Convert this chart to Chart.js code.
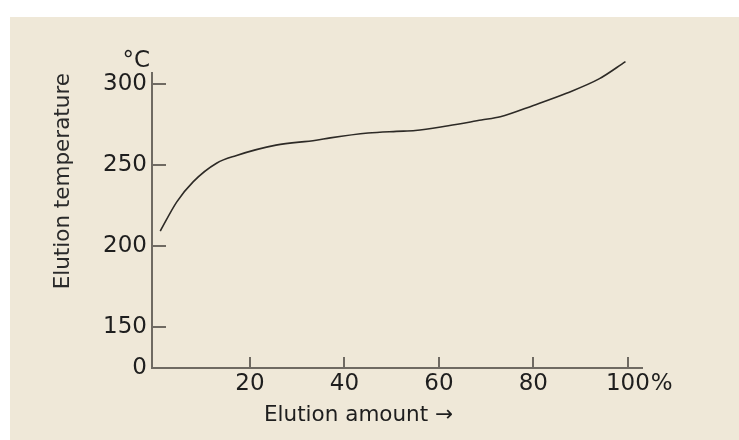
<!DOCTYPE html>
<html>
<head>
<meta charset="utf-8">
<script src="https://cdn.jsdelivr.net/npm/chart.js@4.4.1/dist/chart.umd.min.js"></script>
<style>
  html, body { margin: 0; padding: 0; background: #fff; }
  #panel { position: absolute; left: 10px; top: 17px; width: 729px; height: 423px; background: #efe8d8; }
  #elutionChart { position: absolute; left: 0; top: 0; }
</style>
</head>
<body>
<div id="panel"></div>
<canvas id="elutionChart" width="739" height="440"></canvas>
<script>
// elution curve, read point by point
const elutionAmount = [1, 4.5, 8, 13, 17, 25.5, 34, 37, 45, 51, 55, 62, 69, 73, 80, 87, 94, 99.5];
const elutionTemp = [209.5, 227.5, 240, 251.5, 256, 262.5, 265.5, 267, 270, 271, 271.5, 274.5, 278, 280, 287, 294.5, 303.5, 314];

const xTickValues = [20, 40, 60, 80, 100];
const xTickLabels = ['20', '40', '60', '80', '100'];
const yTickValues = [150, 200, 250, 300];
const yBreakLabel = '0';   // axis is broken below 150
const xUnit = '%';
const yUnit = '°C';
const xTitle = 'Elution amount →';
const yTitle = 'Elution temperature';

const xMin = -0.75, xMax = 103;
const yMin = 125, yMax = 307;

const axisColor = '#6f6a62';
const lineColor = '#2d2a26';
const textColor = '#1e1e1e';
const fontFamily = '"DejaVu Sans", sans-serif';
const tickSize = 23;
const titleSize = 21.5;

// inward tick marks, unit labels and the x title
const axisExtras = {
  id: 'axisExtras',
  afterDraw(chart) {
    const { ctx, scales: { x, y } } = chart;
    ctx.save();
    ctx.strokeStyle = axisColor;
    ctx.lineWidth = 2;
    ctx.beginPath();
    yTickValues.forEach(v => {
      const py = Math.round(y.getPixelForValue(v));
      ctx.moveTo(y.right, py);
      ctx.lineTo(y.right + 14, py);
    });
    xTickValues.forEach(v => {
      const px = Math.round(x.getPixelForValue(v));
      ctx.moveTo(px, x.top);
      ctx.lineTo(px, x.top - 11);
    });
    ctx.stroke();

    ctx.fillStyle = textColor;
    ctx.font = `${tickSize}px ${fontFamily}`;
    ctx.textAlign = 'right';
    ctx.textBaseline = 'alphabetic';
    ctx.fillText(yUnit, y.right - 2, y.getPixelForValue(yMax) - 6);

    // percent sign hangs off the last x label
    const items = x.getLabelItems();
    const lastItem = items[items.length - 1];
    const [lx, ly] = lastItem.options.translation;
    const half = ctx.measureText(lastItem.label).width / 2;
    ctx.textAlign = 'left';
    ctx.textBaseline = lastItem.options.textBaseline;
    ctx.fillText(xUnit, lx + half + 1, ly + lastItem.textOffset);

    ctx.font = `${titleSize}px ${fontFamily}`;
    ctx.textBaseline = 'alphabetic';
    ctx.fillText(xTitle, x.left + 112, x.top + 53);
    ctx.restore();
  }
};

new Chart(document.getElementById('elutionChart'), {
  type: 'line',
  data: {
    datasets: [{
      data: elutionAmount.map((v, i) => ({ x: v, y: elutionTemp[i] })),
      borderColor: lineColor,
      borderWidth: 1.6,
      pointRadius: 0,
      cubicInterpolationMode: 'monotone',
      fill: false,
      clip: false
    }]
  },
  options: {
    responsive: false,
    animation: false,
    devicePixelRatio: 1,
    layout: { padding: { top: 73, right: 97, bottom: 0, left: 0 } },
    plugins: {
      legend: { display: false },
      tooltip: { enabled: false }
    },
    scales: {
      x: {
        type: 'linear',
        min: xMin,
        max: xMax,
        grid: { display: false, drawTicks: false },
        border: { display: true, color: axisColor, width: 2 },
        afterBuildTicks: s => { s.ticks = xTickValues.map(v => ({ value: v })); },
        afterFit: s => { s.height = 72; },
        ticks: {
          autoSkip: false,
          maxRotation: 0,
          padding: 2,
          color: textColor,
          font: { family: fontFamily, size: tickSize },
          callback: v => xTickLabels[xTickValues.indexOf(v)] ?? ''
        }
      },
      y: {
        type: 'linear',
        min: yMin,
        max: yMax,
        grid: { display: false, drawTicks: false },
        border: { display: true, color: axisColor, width: 2 },
        afterBuildTicks: s => { s.ticks = [yMin, ...yTickValues].map(v => ({ value: v })); },
        afterFit: s => { s.width = 152; },
        ticks: {
          padding: 5,
          color: textColor,
          font: { family: fontFamily, size: tickSize },
          callback: v => v === yMin ? yBreakLabel : String(v)
        },
        title: {
          display: true,
          text: yTitle,
          align: 'end',
          color: '#2a2a2a',
          font: { family: fontFamily, size: titleSize },
          padding: { top: 51, bottom: 0 }
        }
      }
    }
  },
  plugins: [axisExtras]
});
</script>
</body>
</html>
